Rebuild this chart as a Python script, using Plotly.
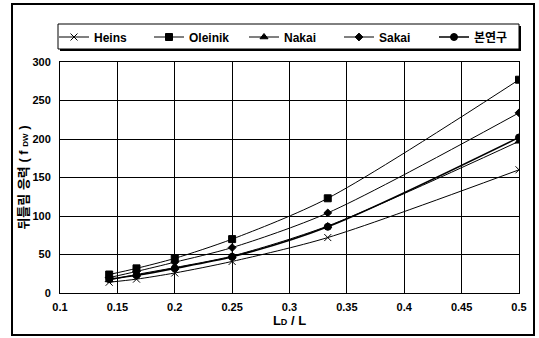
import plotly.graph_objects as go

x_vals = [1/7, 1/6, 0.2, 0.25, 1/3, 0.5]
heins = [14, 18, 26, 41, 72, 160]
oleinik = [24, 32, 45, 70, 123, 277]
nakai = [17, 24, 33, 48, 87, 197]
sakai = [20, 28, 40, 59, 104, 234]
present = [18, 23, 32, 47, 86, 202]
x_ticks = [0.1, 0.15, 0.2, 0.25, 0.3, 0.35, 0.4, 0.45, 0.5]
x_tick_text = ["0.1", "0.15", "0.2", "0.25", "0.3", "0.35", "0.4", "0.45", "0.5"]

series = [
    ("Heins", heins, "x-thin-open", 7, 1),
    ("Oleinik", oleinik, "square", 7, 1),
    ("Nakai", nakai, "triangle-up", 7, 1),
    ("Sakai", sakai, "diamond", 6, 1),
    ("본연구", present, "circle", 7, 1.6),
]

FONT = "Liberation Sans, Arial, Noto Sans CJK KR, sans-serif"

fig = go.Figure()
for name, ys, sym, sz, lw in series:
    fig.add_trace(go.Scatter(
        x=x_vals, y=ys, name=name, mode="lines+markers",
        line=dict(color="black", width=lw, shape="spline", smoothing=0.8),
        marker=dict(symbol=sym, size=sz, color="black",
                    line=dict(color="black", width=1)),
    ))

L, R, T, B = 60, 20, 62, 45
W, H = 539, 338
pw, ph = W - L - R, H - T - B

def px(x):
    return (x - L) / pw

def py(y):
    return (H - B - y) / ph

shapes = [
    dict(type="rect", xref="paper", yref="paper", layer="below",
         x0=px(12), x1=px(534), y0=py(335), y1=py(4),
         line=dict(color="black", width=2)),
    dict(type="rect", xref="paper", yref="paper", layer="below",
         x0=px(60), x1=px(521), y0=py(51), y1=py(26),
         line=dict(color="black", width=0), fillcolor="black"),
    dict(type="rect", xref="paper", yref="paper", layer="below",
         x0=px(58), x1=px(519), y0=py(49), y1=py(24),
         line=dict(color="black", width=1), fillcolor="white"),
]

fig.update_layout(
    width=W, height=H,
    margin=dict(l=L, r=R, t=T, b=B),
    paper_bgcolor="white", plot_bgcolor="white",
    font=dict(family=FONT, size=11, color="black", weight="bold"),
    shapes=shapes,
    showlegend=True,
    legend=dict(orientation="h", x=px(54), y=py(37), xanchor="left", yanchor="middle",
                bgcolor="rgba(0,0,0,0)", borderwidth=0,
                entrywidth=50, entrywidthmode="pixels", itemwidth=30,
                font=dict(family=FONT, size=12, color="black", weight="bold")),
    xaxis=dict(range=[0.1, 0.5], tickvals=x_ticks, ticktext=x_tick_text,
               showgrid=True, gridcolor="black", gridwidth=0.6,
               showline=True, linecolor="black", linewidth=1, mirror=True,
               ticks="", zeroline=False, ticklabelstandoff=4,
               tickfont=dict(family=FONT, size=11, color="black", weight="bold"),
               title=dict(text="L<span style='font-size:9px'>D</span> / L",
                          font=dict(family=FONT, size=13, color="black"), standoff=2)),
    yaxis=dict(range=[0, 300], dtick=50, showgrid=True, gridcolor="black", gridwidth=0.6,
               showline=True, linecolor="black", linewidth=1, mirror=True,
               ticks="", zeroline=False, ticklabelstandoff=6,
               tickfont=dict(family=FONT, size=11, color="black", weight="bold"),
               title=dict(text="뒤틀림 응력 ( f <span style='font-size:8px'>DW</span> )",
                          font=dict(family=FONT, size=13, color="black"), standoff=0)),
)

fig.write_html("out.html", config={"displayModeBar": False},
               post_script="document.body.style.margin='0';document.body.style.padding='0';")
